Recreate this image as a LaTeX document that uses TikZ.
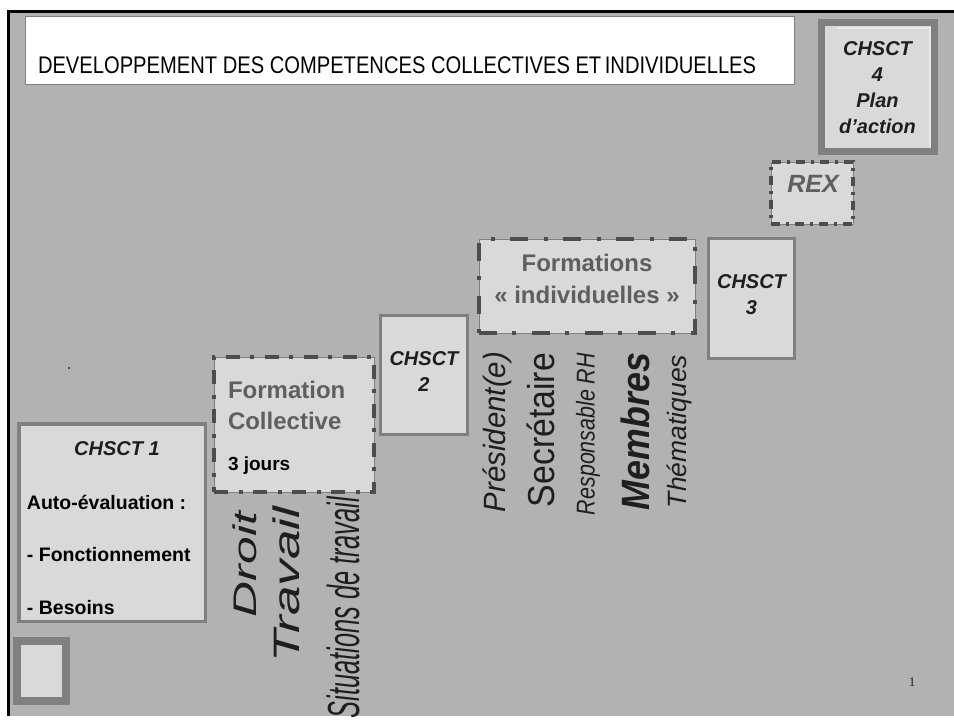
\documentclass[tikz,border=0pt]{standalone}
\usepackage{fontspec}
\setmainfont{Liberation Sans}
\newfontfamily\pagefont{Liberation Serif}
\usepackage{graphicx}

\definecolor{fond}{HTML}{B2B2B2}
\definecolor{boite}{HTML}{D9D9D9}
\definecolor{cadre}{HTML}{808080}
\definecolor{trait}{HTML}{4D4D4D}
\definecolor{grisfonce}{HTML}{5F5F5F}
\definecolor{encre}{HTML}{1E1E1E}
\definecolor{lumiere}{HTML}{E9E9E9}

\newcommand{\fs}[2]{\fontsize{#1}{#2}\selectfont}

\begin{document}
\begin{tikzpicture}[x=1pt,y=-1pt]
	\tikzstyle{every node}=[inner sep=0pt,outer sep=0pt]
	\tikzstyle{chsct}=[draw=cadre,line width=3pt,fill=boite]
	\tikzstyle{vertical}=[rotate=90,text=encre]
	\tikzstyle{gros}=[font=\fs{20}{26}\bfseries\itshape,text=encre,align=center]
	\tikzset{formation/.style={draw=cadre,line width=1pt,fill=boite,
		postaction={draw=trait,line width=4pt,dash pattern=#1}}}
	\useasboundingbox (0,0) rectangle (954,720);
	\fill[white] (0,0) rectangle (954,720);
	\fill[fond] (8,11) rectangle (954,716);
	\draw[line width=3pt] (8,716) -- (8,11) -- (954,11);

	\node[draw=cadre,line width=1pt,fill=white,minimum width=769pt,minimum height=68pt] (titre) at (410,50.5) {};
	\node[anchor=west] (titretexte) at (38,65) {\resizebox*{718pt}{17pt}{DEVELOPPEMENT DES COMPETENCES COLLECTIVES ET\kern-1pt{} INDIVIDUELLES}};

	\node[draw=cadre,line width=7pt,fill=boite,minimum width=113.5pt,minimum height=129.5pt] (chsct4) at (877.75,86.75) {};
	\draw[lumiere,line width=2pt] (837,28) -- (930,28) -- (930,148);
	\node[gros] (t4) at (877.5,87.5) {CHSCT\\4\\Plan\\d’action};

	\node[formation={on 9pt off 6pt on 3pt off 6pt},minimum width=82pt,minimum height=62pt] (rex) at (812,193) {};
	\node[font=\fs{25}{30}\bfseries\itshape,text=grisfonce] (trex) at (813,184) {REX};

	\node[chsct,minimum width=86pt,minimum height=120pt] (chsct3) at (751.5,298.5) {};
	\node[gros] (t3) at (751.5,295) {CHSCT\\3};

	\node[formation={on 18pt off 15pt on 4pt off 16pt},minimum width=216pt,minimum height=94pt] (individuelles) at (587,286) {};
	\node[font=\fs{24}{32}\bfseries,text=grisfonce,align=center] (tind) at (587,279) {Formations\\« individuelles »};

	\node[chsct,minimum width=87pt,minimum height=119pt] (chsct2) at (424,375) {};
	\node[gros] (t2) at (424,371.5) {CHSCT\\2};

	\node[formation={on 14pt off 11pt on 4pt off 10pt},minimum width=160pt,minimum height=135pt] (collective) at (294,424.5) {};
	\node[font=\fs{24}{31}\bfseries,text=grisfonce,align=left,anchor=west] (tcoll) at (228,405.5) {Formation\\Collective};
	\node[font=\fs{19}{23}\bfseries,anchor=west] (jours) at (228,466) {3 jours};

	\node[chsct,line width=3.5pt,minimum width=186.5pt,minimum height=197.5pt] (chsct1) at (112,522.5) {};
	\node[gros] (t1) at (117,449) {CHSCT 1};
	\node[font=\fs{19.5}{52.5}\bfseries,align=left,anchor=west] (auto) at (27,554.5) {Auto-évaluation :\\- Fonctionnement\\- Besoins};

	\node[draw=cadre,line width=8pt,fill=boite,minimum width=49pt,minimum height=60pt] (carre) at (41.5,671) {};

	\node[vertical] (droit) at (245,564.5) {\resizebox*{105pt}{24pt}{\itshape Droit}};
	\node[vertical] (travail) at (286.5,584.5) {\resizebox*{155pt}{27pt}{\itshape Travail}};
	\node[vertical] (situations) at (343.5,607.5) {\resizebox*{221pt}{33pt}{\itshape Situations de travail}};
	\node[vertical] (president) at (497.5,432) {\resizebox*{160pt}{29pt}{\itshape Président(e)}};
	\node[vertical] (secretaire) at (541,430) {\resizebox*{154pt}{28pt}{Secrétaire}};
	\node[vertical] (rh) at (588,434) {\resizebox*{162pt}{24pt}{\itshape Responsable RH}};
	\node[vertical] (membres) at (635.5,431.5) {\resizebox*{157pt}{29pt}{\bfseries\itshape Membres}};
	\node[vertical] (thematiques) at (679.5,431.5) {\resizebox*{153pt}{25pt}{\itshape Thématiques}};

	\node[fill=trait,minimum size=2pt] (point) at (69,368) {};
	\node[font=\pagefont\fs{13}{13},text=encre] (page) at (912,682) {1};
\end{tikzpicture}
\end{document}
